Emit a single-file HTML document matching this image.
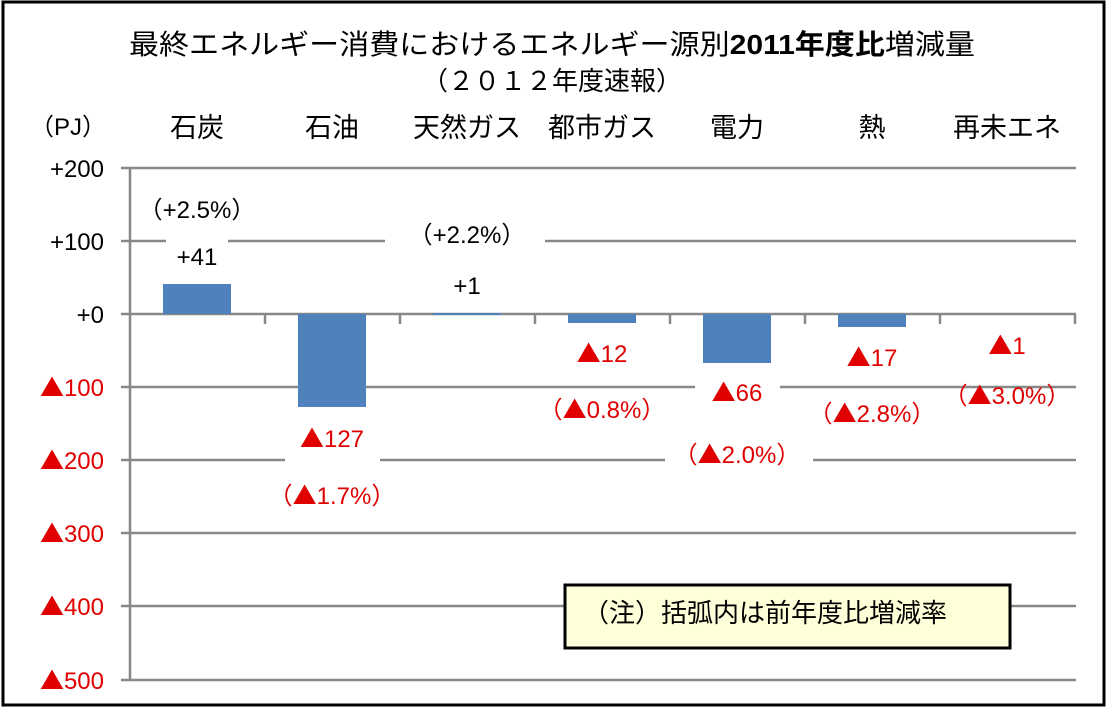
<!DOCTYPE html>
<html><head><meta charset="utf-8"><style>
body{margin:0;background:#fff}
svg text{font-family:"Liberation Sans","Noto Sans CJK JP",sans-serif}
.r{fill:#e00000}
.t{font-family:"Noto Sans CJK JP",sans-serif}
</style></head><body>
<svg width="1108" height="710" xmlns="http://www.w3.org/2000/svg">
<rect x="0" y="0" width="1108" height="710" fill="#fff"/>
<rect x="3" y="2" width="1101" height="703" fill="none" stroke="#000" stroke-width="3"/>
<g font-size="28" text-anchor="middle" fill="#000">
<text x="552" y="54" textLength="846" lengthAdjust="spacingAndGlyphs">最終エネルギー消費におけるエネルギー源別<tspan font-weight="bold">2011年度比</tspan>増減量</text>
<text x="552" y="90" font-size="26">（２０１２年度速報）</text>
</g>
<g font-size="27" text-anchor="middle">
<text x="68" y="135" font-size="24">（PJ）</text>
<text x="197" y="137">石炭</text><text x="332" y="137">石油</text><text x="467" y="137">天然ガス</text>
<text x="602" y="137">都市ガス</text><text x="737" y="137">電力</text><text x="872" y="137">熱</text><text x="1007" y="137">再未エネ</text>
</g>
<g stroke="#888" stroke-width="2.5">
<line x1="121" y1="168" x2="1076" y2="168"/><line x1="121" y1="241" x2="1076" y2="241"/>
<line x1="121" y1="314" x2="1076" y2="314"/><line x1="121" y1="387" x2="1076" y2="387"/>
<line x1="121" y1="460" x2="1076" y2="460"/><line x1="121" y1="533" x2="1076" y2="533"/>
<line x1="121" y1="606" x2="1076" y2="606"/><line x1="121" y1="680" x2="1076" y2="680"/>
<line x1="130" y1="168" x2="130" y2="680"/>
<line x1="265" y1="314" x2="265" y2="324"/><line x1="400" y1="314" x2="400" y2="324"/>
<line x1="535" y1="314" x2="535" y2="324"/><line x1="670" y1="314" x2="670" y2="324"/>
<line x1="805" y1="314" x2="805" y2="324"/><line x1="940" y1="314" x2="940" y2="324"/>
<line x1="1075" y1="314" x2="1075" y2="324"/>
</g>
<g fill="#4f81bd">
<rect x="163" y="284" width="68" height="30"/>
<rect x="298" y="314" width="68" height="93"/>
<rect x="433" y="313" width="68" height="2"/>
<rect x="568" y="314" width="68" height="9"/>
<rect x="703" y="314" width="68" height="49"/>
<rect x="838" y="314" width="68" height="13"/>
</g>
<g font-size="24" text-anchor="end">
<text x="104" y="177">+200</text><text x="104" y="250">+100</text><text x="104" y="323">+0</text>
<g class="r"><text x="104" y="396"><tspan class="t">▲</tspan>100</text><text x="104" y="469"><tspan class="t">▲</tspan>200</text><text x="104" y="542"><tspan class="t">▲</tspan>300</text>
<text x="104" y="615"><tspan class="t">▲</tspan>400</text><text x="104" y="689"><tspan class="t">▲</tspan>500</text></g>
</g>
<g fill="#fff">
<rect x="166" y="228" width="62" height="25"/><rect x="385" y="228" width="160" height="25"/>
<rect x="285" y="448" width="95" height="25"/><rect x="665" y="448" width="148" height="25"/>
<rect x="695" y="376" width="85" height="25"/>
</g>
<g font-size="24" text-anchor="middle">
<text x="197" y="218">（+2.5%）</text><text x="197" y="265">+41</text>
<text x="467" y="243">（+2.2%）</text><text x="467" y="294">+1</text>
<g class="r">
<text x="332" y="447"><tspan class="t">▲</tspan>127</text><text x="332" y="504">（<tspan class="t">▲</tspan>1.7%）</text>
<text x="602" y="362"><tspan class="t">▲</tspan>12</text><text x="602" y="418">（<tspan class="t">▲</tspan>0.8%）</text>
<text x="737" y="401"><tspan class="t">▲</tspan>66</text><text x="737" y="463">（<tspan class="t">▲</tspan>2.0%）</text>
<text x="872" y="366"><tspan class="t">▲</tspan>17</text><text x="872" y="422">（<tspan class="t">▲</tspan>2.8%）</text>
<text x="1007" y="354"><tspan class="t">▲</tspan>1</text><text x="1007" y="404">（<tspan class="t">▲</tspan>3.0%）</text>
</g></g>
<rect x="565" y="585" width="445" height="63" fill="#ffffd9" stroke="#000" stroke-width="3"/>
<text x="765" y="622" font-size="26" text-anchor="middle">（注）括弧内は前年度比増減率</text>
</svg>
</body></html>
